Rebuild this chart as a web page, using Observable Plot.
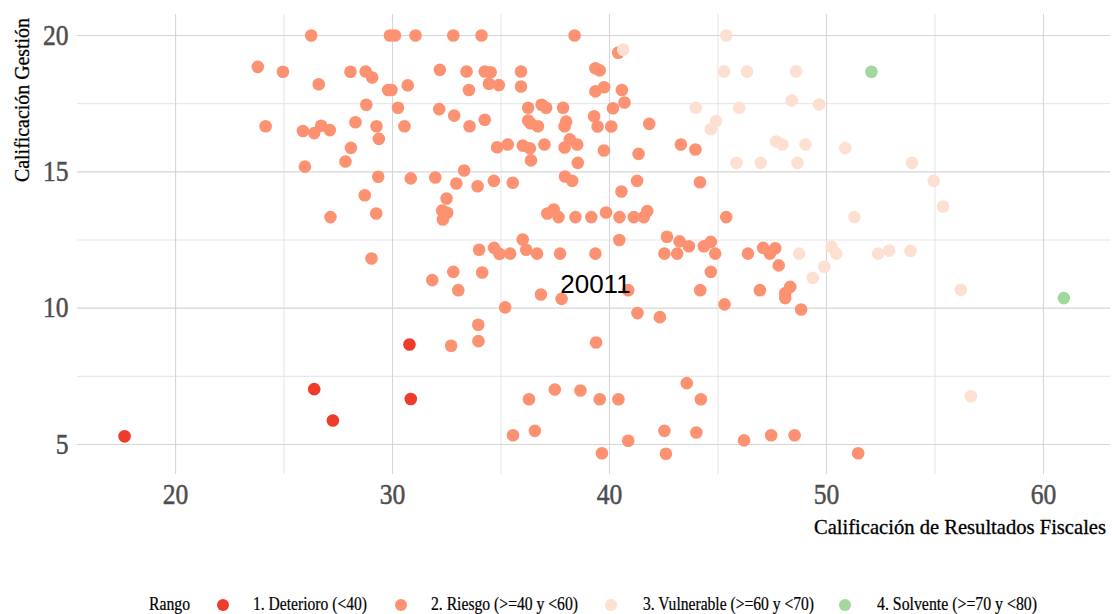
<!DOCTYPE html>
<html>
<head>
<meta charset="utf-8">
<script src="https://cdn.jsdelivr.net/npm/d3@7"></script>
<script src="https://cdn.jsdelivr.net/npm/@observablehq/plot@0.6"></script>
<style>
  body { margin: 0; background: #ffffff; }
  #chart { width: 1112px; height: 614px; position: relative; background: #ffffff; }
  #chart svg { display: block; }
</style>
</head>
<body>
<div id="chart"></div>
<script>
// ---------- categories ----------
const rangoLabels = ["1. Deterioro (<40)", "2. Riesgo (>=40 y <60)", "3. Vulnerable (>=60 y <70)", "4. Solvente (>=70 y <80)"];
const rangoColors = ["#EF3B2C", "#FC9272", "#FEE0D2", "#A1D99B"];
const legendTitle = "Rango";
const xTitle = "Calificación de Resultados Fiscales";
const yTitle = "Calificación Gestión";

// ---------- tick values ----------
const xTicks = [20, 30, 40, 50, 60];
const xMinor = [25, 35, 45, 55];
const yTicks = [5, 10, 15, 20];
const yMinor = [7.5, 12.5, 17.5];

// ---------- series: Deterioro ----------
const deterioroX = [17.65, 26.39, 27.25, 30.78, 30.84];
const deterioroY = [5.30, 7.03, 5.88, 8.67, 6.67];

// ---------- series: Riesgo ----------
const riesgoX = [
  26.25, 23.79, 24.95, 28.06, 26.60, 24.15, 25.87, 26.39, 26.71, 27.11, 28.29, 28.08, 27.83, 25.96, 27.14,
  29.88, 30.11, 31.06, 32.80, 34.10, 38.39,
  28.76, 29.06, 32.18, 33.41, 34.25, 34.52, 35.92, 39.35, 39.55,
  29.80, 29.95, 30.70, 33.52, 34.44, 34.90, 35.92, 39.35, 39.75,
  28.79, 30.25, 32.15, 32.84, 34.25, 33.55, 29.26, 30.55, 29.37,
  36.25, 36.87, 37.08, 37.86, 36.25, 36.36, 36.70, 38.00, 37.93, 39.29, 39.45,
  34.82, 35.31, 36.00, 36.33, 37.00, 37.93, 38.17, 38.51, 36.38, 38.54,
  29.34, 28.72, 29.25, 30.84, 31.97, 33.30, 32.94, 33.92, 34.67, 35.54, 32.49, 32.29, 32.52, 32.32,
  37.95, 38.28, 37.13, 37.43, 37.65, 38.43, 39.16, 36.00,
  40.40, 40.57, 40.16, 40.69, 40.08, 41.83, 39.74, 41.34, 43.29, 43.96, 41.27, 40.55, 44.17,
  39.84, 40.46, 41.12, 41.58, 41.74, 45.38,
  29.03, 31.83, 32.80, 33.03, 33.99, 34.13, 34.68, 34.93, 35.42, 36.16, 36.66, 37.72, 39.35,
  36.84, 37.79, 35.19, 32.70, 33.95, 33.96, 39.38, 36.29, 37.48, 38.66, 39.55, 35.55, 36.56, 39.65,
  40.45, 40.86, 42.65, 43.23, 43.66, 42.53, 43.12, 44.35, 44.67, 44.87, 44.67, 44.18, 45.30, 41.29, 42.32,
  46.38, 47.08, 47.39, 47.64, 47.80, 46.93, 48.10, 48.33, 48.10, 48.83,
  40.41, 43.56, 44.21, 40.86, 42.53, 44.00, 42.60, 46.20, 47.45, 48.53, 51.46
];
const riesgoY = [
  20.00, 18.85, 18.67, 18.67, 18.21, 16.67, 16.50, 16.42, 16.69, 16.53, 16.82, 15.88, 15.38, 15.19, 13.34,
  20.00, 20.00, 20.00, 20.00, 20.00, 20.00,
  18.68, 18.46, 18.74, 18.68, 18.68, 18.65, 18.68, 18.80, 18.72,
  18.00, 18.00, 18.17, 18.00, 18.23, 18.18, 18.13, 17.95, 18.10,
  17.46, 17.35, 17.30, 17.06, 16.91, 16.67, 16.67, 16.67, 16.21,
  17.35, 17.46, 17.35, 17.35, 16.88, 16.78, 16.67, 16.84, 16.67, 17.04, 16.66,
  15.90, 16.00, 15.96, 15.86, 16.00, 15.89, 16.19, 16.00, 15.42, 15.33,
  14.82, 14.14, 13.47, 14.76, 14.79, 15.05, 14.57, 14.47, 14.67, 14.60, 14.02, 13.58, 13.50, 13.25,
  14.83, 14.67, 13.47, 13.62, 13.34, 13.34, 13.34, 12.52,
  19.37, 18.00, 17.33, 17.54, 16.66, 16.76, 15.78, 15.66, 16.00, 15.82, 14.67, 14.28, 14.62,
  13.51, 13.34, 13.34, 13.34, 13.56, 13.34,
  11.82, 11.03, 11.33, 10.66, 12.14, 11.31, 12.21, 11.99, 12.00, 12.14, 12.00, 12.00, 12.00,
  10.50, 10.34, 10.03, 8.62, 9.39, 8.79, 8.74, 6.66, 7.02, 6.98, 6.66, 5.34, 5.50, 4.68,
  12.50, 10.66, 12.62, 12.45, 12.27, 12.00, 12.00, 12.27, 12.43, 12.00, 11.33, 10.66, 10.14, 9.82, 9.67,
  12.00, 12.21, 12.00, 12.20, 11.57, 10.66, 10.55, 10.78, 10.37, 9.95,
  6.66, 7.25, 6.66, 5.14, 5.50, 5.44, 4.66, 5.15, 5.34, 5.34, 4.68
];

// ---------- series: Vulnerable ----------
const vulnerableX = [
  40.63, 45.38, 45.28, 46.34, 48.60, 43.98, 45.98, 48.40, 49.66, 44.91, 44.67, 47.68, 47.97, 49.03,
  45.85, 46.97, 48.66, 50.86, 53.94, 54.94, 55.37, 51.29, 48.74, 49.37, 49.90, 50.23, 50.46, 52.38,
  52.89, 53.87, 56.19, 56.66
];
const vulnerableY = [
  19.48, 20.00, 18.68, 18.68, 18.68, 17.35, 17.35, 17.62, 17.47, 16.86, 16.56, 16.11, 16.00, 16.00,
  15.33, 15.33, 15.33, 15.87, 15.33, 14.67, 13.73, 13.34, 12.00, 11.11, 11.52, 12.25, 12.00, 12.00,
  12.11, 12.10, 10.67, 6.77
];

// ---------- series: Solvente ----------
const solventeX = [52.07, 60.94];
const solventeY = [18.67, 10.37];

// ---------- annotation ----------
const anotacionX = [39.35];
const anotacionY = [10.87];
const anotacionText = ["20011"];

// ---------- build table ----------
const seriesX = [deterioroX, riesgoX, vulnerableX, solventeX];
const seriesY = [deterioroY, riesgoY, vulnerableY, solventeY];
const puntos = [];
seriesX.forEach((xs, k) => xs.forEach((x, i) => puntos.push({x, y: seriesY[k][i], rango: rangoLabels[k]})));
const anotaciones = anotacionX.map((x, i) => ({x, y: anotacionY[i], label: anotacionText[i]}));

const W = 1112, H = 580;
const serif = "'Liberation Serif', 'DejaVu Serif', serif";

const plot = Plot.plot({
  width: W,
  height: H,
  marginLeft: 77,
  marginRight: 2,
  marginTop: 14,
  marginBottom: 106,
  x: {domain: [15.48, 63.09]},
  y: {domain: [3.9, 20.77]},
  color: {domain: rangoLabels, range: rangoColors},
  style: {fontFamily: serif, background: "#ffffff"},
  marks: [
    Plot.ruleX(xMinor, {stroke: "#e2e2e2", strokeWidth: 0.9}),
    Plot.ruleY(yMinor, {stroke: "#e2e2e2", strokeWidth: 0.9}),
    Plot.ruleX(xTicks, {stroke: "#d6d6d6", strokeWidth: 1.1}),
    Plot.ruleY(yTicks, {stroke: "#d6d6d6", strokeWidth: 1.1}),
    Plot.axisX({ticks: xTicks, tickSize: 0, tickPadding: 9, fontSize: 29, label: null, tickFormat: d => String(d)}),
    Plot.axisY({ticks: yTicks, tickSize: 0, tickPadding: 9, fontSize: 29, label: null, tickFormat: d => String(d)}),
    Plot.dot(puntos, {x: "x", y: "y", fill: "rango", r: 6.3}),
    Plot.text(anotaciones, {x: "x", y: "y", text: "label", fontSize: 26, fontFamily: "'Liberation Sans', Arial, sans-serif", fill: "#000000"})
  ]
});

document.getElementById("chart").appendChild(plot);

const svg = d3.select(plot);
// style the tick labels (condensed serif look)
svg.selectAll("text").each(function () {
  const t = this.textContent.trim();
  if (/^\d+$/.test(t) && !anotacionText.includes(t)) {
    d3.select(this)
      .attr("font-family", serif)
      .attr("font-size", 29)
      .attr("fill", "#4d4d4d")
      .attr("stroke", "#4d4d4d")
      .attr("stroke-width", 0.5)
      .attr("textLength", 12.8 * t.length)
      .attr("lengthAdjust", "spacingAndGlyphs");
  }
});

// axis titles (font size fitted so the natural width matches the reference)
function fittedText(sel, target, base) {
  sel.attr("font-size", base);
  const w = sel.node().getComputedTextLength();
  if (w > 0) sel.attr("font-size", (base * target / w).toFixed(2));
  return sel;
}
const xt = svg.append("text")
  .attr("x", 1106).attr("y", 534)
  .attr("text-anchor", "end")
  .attr("font-family", serif).attr("fill", "#000")
  .attr("stroke", "#000").attr("stroke-width", 0.3)
  .text(xTitle);
fittedText(xt, 292, 22);
const yt = svg.append("text")
  .attr("transform", "translate(29,18) rotate(-90)")
  .attr("text-anchor", "end")
  .attr("font-family", serif).attr("font-size", 22).attr("fill", "#000")
  .attr("stroke", "#000").attr("stroke-width", 0.3)
  .attr("textLength", 164).attr("lengthAdjust", "spacingAndGlyphs")
  .text(yTitle);

// legend below the plot
const legendItems = [
  {dot: 223, text: 253, len: 114},
  {dot: 401, text: 431, len: 147},
  {dot: 611, text: 643, len: 171},
  {dot: 845, text: 877, len: 160}
];
const leg = d3.select("#chart").append("svg")
  .attr("width", W).attr("height", 34);
leg.append("text")
  .attr("x", 149).attr("y", 30)
  .attr("font-family", serif).attr("font-size", 18).attr("fill", "#000")
  .attr("stroke", "#000").attr("stroke-width", 0.2)
  .attr("textLength", 41).attr("lengthAdjust", "spacingAndGlyphs")
  .text(legendTitle);
legendItems.forEach((it, k) => {
  leg.append("circle").attr("cx", it.dot).attr("cy", 25).attr("r", 6).attr("fill", rangoColors[k]);
  leg.append("text")
    .attr("x", it.text).attr("y", 30)
    .attr("font-family", serif).attr("font-size", 18).attr("fill", "#000")
    .attr("stroke", "#000").attr("stroke-width", 0.2)
    .attr("textLength", it.len).attr("lengthAdjust", "spacingAndGlyphs")
    .text(rangoLabels[k]);
});
</script>
</body>
</html>
